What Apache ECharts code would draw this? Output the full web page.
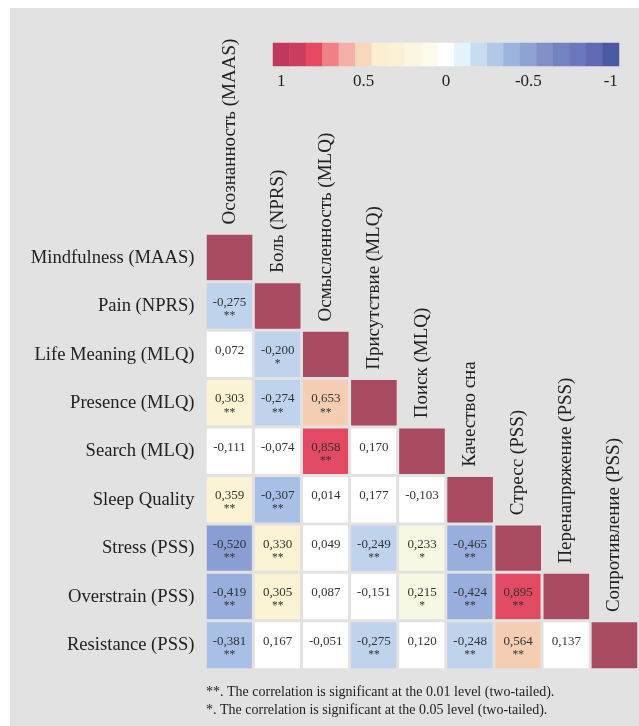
<!DOCTYPE html>
<html>
<head>
<meta charset="utf-8">
<script src="https://cdn.jsdelivr.net/npm/echarts@6/dist/echarts.min.js"></script>
<style>
  html, body { margin: 0; padding: 0; background: #fff; }
  #chart { position: absolute; left: 10px; top: 8px; width: 629px; height: 718px; }
</style>
</head>
<body>
<div id="chart"></div>
<script>
// row (English) and column (Russian) variable names
const rowNames = ["Mindfulness (MAAS)", "Pain (NPRS)", "Life Meaning (MLQ)", "Presence (MLQ)",
  "Search (MLQ)", "Sleep Quality", "Stress (PSS)", "Overstrain (PSS)", "Resistance (PSS)"];
const colNames = ["Осознанность (MAAS)", "Боль (NPRS)", "Осмысленность (MLQ)", "Присутствие (MLQ)",
  "Поиск (MLQ)", "Качество сна", "Стресс (PSS)", "Перенапряжение (PSS)", "Сопротивление (PSS)"];

// lower triangle of the correlation matrix, row by row
const corr = [
  [1],
  [-0.275, 1],
  [0.072, -0.200, 1],
  [0.303, -0.274, 0.653, 1],
  [-0.111, -0.074, 0.858, 0.170, 1],
  [0.359, -0.307, 0.014, 0.177, -0.103, 1],
  [-0.520, 0.330, 0.049, -0.249, 0.233, -0.465, 1],
  [-0.419, 0.305, 0.087, -0.151, 0.215, -0.424, 0.895, 1],
  [-0.381, 0.167, -0.051, -0.275, 0.120, -0.248, 0.564, 0.137, 1]
];
const stars = [
  [""],
  ["**", ""],
  ["", "*", ""],
  ["**", "**", "**", ""],
  ["", "", "**", "", ""],
  ["**", "**", "", "", "", ""],
  ["**", "**", "", "**", "*", "**", ""],
  ["**", "**", "", "", "*", "**", "**", ""],
  ["**", "", "", "**", "", "**", "**", "", ""]
];

// colour bar legend
const cbTicks = ["1", "0.9", "0.8", "0.7", "0.6", "0.5", "0.4", "0.3", "0.2", "0.1", "0",
  "-0.1", "-0.2", "-0.3", "-0.4", "-0.5", "-0.6", "-0.7", "-0.8", "-0.9", "-1"];
const cbLabels = ["1", "0.5", "0", "-0.5", "-1"];
const cbColors = ["#c0385b", "#c93d5d", "#e64a62", "#f08187", "#f6afaa", "#f7d8bb", "#fcefd0",
  "#fbf2d6", "#fbf6df", "#fcfae8", "#ffffff", "#e4f3fc", "#c8dcef", "#b2c8e8", "#9ab4de",
  "#8ea4d2", "#8390c8", "#7283c2", "#6b78bd", "#6269b3", "#4a5aa2"];

const footnotes = [
  "**. The correlation is significant at the 0.01 level (two-tailed).",
  "*. The correlation is significant at the 0.05 level (two-tailed)."
];

const BG = "#e2e2e2";
const SERIF = "'Liberation Serif', 'DejaVu Serif', serif";

const cells = [];
corr.forEach((row, r) => {
  row.forEach((v, c) => cells.push([c, r, v, stars[r][c]]));
});

const fmt = (v) => v.toFixed(3).replace(".", ",");

const chart = echarts.init(document.getElementById("chart"));
chart.setOption({
  backgroundColor: BG,
  animation: false,
  grid: [
    { left: 195.5, top: 225.5, width: 433, height: 436 },
    { left: 263, top: 35, width: 346, height: 23 }
  ],
  xAxis: [
    {
      type: "category", gridIndex: 0, data: colNames,
      axisLine: { show: false }, axisTick: { show: false }, axisLabel: { show: false },
      splitLine: { show: false }
    },
    {
      type: "category", gridIndex: 1, data: cbTicks,
      axisLine: { show: false }, axisTick: { show: false }, splitLine: { show: false },
      axisLabel: {
        interval: 0, margin: 7, color: "#222", fontFamily: SERIF, fontSize: 17,
        formatter: (v) => (cbLabels.includes(v) ? v : "")
      }
    }
  ],
  yAxis: [
    {
      type: "category", gridIndex: 0, data: rowNames, inverse: true,
      axisLine: { show: false }, axisTick: { show: false }, splitLine: { show: false },
      axisLabel: { margin: 11, color: "#222", fontFamily: SERIF, fontSize: 18.6 }
    },
    {
      type: "category", gridIndex: 1, data: ["cb"],
      axisLine: { show: false }, axisTick: { show: false }, axisLabel: { show: false }
    }
  ],
  visualMap: {
    type: "piecewise", show: false, seriesIndex: 0, dimension: 2,
    pieces: [
      { gte: 0.95, color: "#a84b60" },
      { gte: 0.8, lt: 0.95, color: "#e14a62" },
      { gte: 0.5, lt: 0.8, color: "#f5cdb2" },
      { gte: 0.3, lt: 0.5, color: "#fbf3d4" },
      { gte: 0.2, lt: 0.3, color: "#f7f8e3" },
      { gt: -0.2, lt: 0.2, color: "#ffffff" },
      { gt: -0.3, lte: -0.2, color: "#bfd3ed" },
      { gt: -0.4, lte: -0.3, color: "#a8bfe6" },
      { gt: -0.5, lte: -0.4, color: "#98aedd" },
      { lte: -0.5, color: "#8a9dd4" }
    ]
  },
  series: [
    {
      type: "heatmap", xAxisIndex: 0, yAxisIndex: 0, data: cells,
      itemStyle: { borderColor: BG, borderWidth: 3 },
      label: {
        show: true, offset: [0, 1],
        formatter: (p) => {
          const [c, r, v, s] = p.data;
          if (c === r) return "";
          return "{v|" + fmt(v) + "}\n{s|" + (s || " ") + "}";
        },
        rich: {
          v: { fontFamily: SERIF, fontSize: 13, color: "#333", lineHeight: 17 },
          s: { fontFamily: SERIF, fontSize: 11.5, color: "#333", lineHeight: 10 }
        }
      },
      emphasis: { disabled: true }
    },
    {
      // rotated column names sitting above each diagonal cell
      type: "custom", xAxisIndex: 0, yAxisIndex: 0, silent: true,
      data: colNames.map((n, i) => [i, i]),
      renderItem: (params, api) => {
        const p = api.coord([api.value(0), api.value(1)]);
        const h = api.size([1, 1])[1];
        return {
          type: "text", x: p[0], y: p[1] - h / 2 - 9, rotation: Math.PI / 2,
          style: {
            text: colNames[params.dataIndex], fill: "#222",
            fontFamily: SERIF, fontSize: 19, align: "left", verticalAlign: "middle"
          }
        };
      }
    },
    {
      type: "heatmap", xAxisIndex: 1, yAxisIndex: 1, silent: true,
      data: cbTicks.map((t, i) => ({ value: [i, 0, Number(t)], itemStyle: { color: cbColors[i] } })),
      label: { show: false },
      emphasis: { disabled: true }
    }
  ],
  graphic: footnotes.map((t, i) => ({
    type: "text", left: 196, top: 677 + i * 18.5,
    style: { text: t, fill: "#222", font: "14px " + SERIF }
  }))
});
</script>
</body>
</html>
